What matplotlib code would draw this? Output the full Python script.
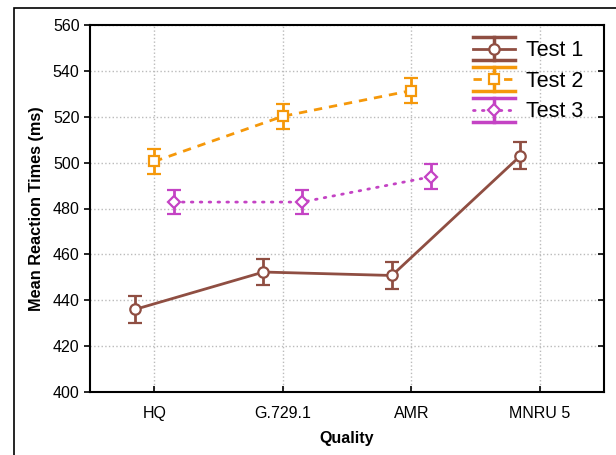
import numpy as np
import matplotlib
matplotlib.use("Agg")
import matplotlib.pyplot as plt
from matplotlib.lines import Line2D
from matplotlib.legend_handler import HandlerBase
from matplotlib.patches import Rectangle

plt.rcParams['font.family'] = ['Liberation Sans', 'DejaVu Sans']

qualities = ['HQ', 'G.729.1', 'AMR', 'MNRU 5']

test1_mean = [436.0, 452.3, 450.8, 503.0]
test1_err = [5.9, 5.6, 5.8, 5.8]
test2_mean = [500.5, 520.2, 531.4]
test2_err = [5.4, 5.4, 5.4]
test3_mean = [482.8, 482.8, 493.8]
test3_err = [5.4, 5.4, 5.4]

brown = '#8F4E42'
orange = '#F5980A'
magenta = '#C443C4'

series = [
    ('Test 1', test1_mean, test1_err, brown, '-', 'o', 7.5, -0.15),
    ('Test 2', test2_mean, test2_err, orange, (0, (3, 2.5)), 's', 7, 0.0),
    ('Test 3', test3_mean, test3_err, magenta, (0, (0.6, 2.6)), 'D', 6, 0.15),
]


class ErrHandler(HandlerBase):
    # legend key: wide caps above/below, stem, line and marker
    def __init__(self, color, ls, marker, ms):
        super().__init__()
        self.color, self.ls, self.marker, self.ms = color, ls, marker, ms

    def create_artists(self, legend, orig, xd, yd, w, h, fs, trans):
        cy = yd + h / 2
        top = cy + 8.5
        bot = cy - 8.5
        rnd = 'round' if self.marker == 'D' else 'butt'
        arts = [
            Line2D([xd, xd + w], [top, top], color=self.color, lw=2.5),
            Line2D([xd, xd + w], [bot, bot], color=self.color, lw=2.5),
            Line2D([xd + w / 2, xd + w / 2], [bot, top], color=self.color, lw=2.5),
            Line2D([xd, xd + w], [cy, cy], color=self.color, lw=2,
                   linestyle=self.ls, dash_capstyle=rnd),
            Line2D([xd + w / 2], [cy], color=self.color, marker=self.marker,
                   markersize=self.ms, markerfacecolor='white',
                   markeredgecolor=self.color, markeredgewidth=1.6, linestyle='None'),
        ]
        for a in arts:
            a.set_transform(trans)
        return arts


fig = plt.figure(figsize=(6.16, 4.55), dpi=100)
fig.patches.append(Rectangle((14 / 616, -0.1), 1.0, 1 - 8 / 455 + 0.1,
                             transform=fig.transFigure, fill=False,
                             edgecolor='black', lw=1.2))
ax = fig.add_axes([90 / 616, 63 / 455, 514 / 616, 367 / 455])

x = np.arange(len(qualities))
handles = []
handler_map = {}
for name, mean, err, col, ls, mk, ms, off in series:
    xs = x[:len(mean)] + off
    ax.errorbar(xs, mean, yerr=err, color=col, linestyle=ls, linewidth=2,
                marker=mk, markersize=ms, markerfacecolor='white',
                markeredgecolor=col, markeredgewidth=1.6,
                elinewidth=2, capsize=5, capthick=2, zorder=3,
                dash_capstyle='round' if mk == 'D' else 'butt')
    h = Line2D([], [], color=col, label=name)
    handles.append(h)
    handler_map[h] = ErrHandler(col, ls, mk, ms)

ax.set_xlim(-0.5, 3.5)
ax.set_ylim(400, 560)
ax.set_xticks(x)
ax.set_xticklabels(qualities)
ax.set_yticks(np.arange(400, 561, 20))
ax.grid(True, color='#BBBBBB', linestyle=':', linewidth=1)
ax.set_axisbelow(True)

for s in ax.spines.values():
    s.set_linewidth(1.5)
ax.tick_params(axis='y', direction='out', length=4, width=1.2, labelsize=11.5)
ax.tick_params(axis='x', direction='in', length=4, width=1.2, labelsize=11.5,
               pad=10)

# inward ticks on the right spine
ax2 = ax.twinx()
ax2.set_ylim(ax.get_ylim())
ax2.set_yticks(ax.get_yticks())
ax2.tick_params(axis='y', direction='in', length=4, width=1.2, labelright=False)
for s in ax2.spines.values():
    s.set_visible(False)

ax.set_xlabel('Quality', fontsize=11.5, fontweight='bold', labelpad=7)
ax.set_ylabel('Mean Reaction Times (ms)', fontsize=11.7, fontweight='bold', labelpad=6)

ax2.legend(handles=handles, handler_map=handler_map, loc='upper right',
           bbox_to_anchor=(0.99, 1.0), frameon=False, fontsize=15.5,
           handlelength=1.95, handletextpad=0.55, labelspacing=0.45,
           borderaxespad=0.3)

fig.savefig('out.png', dpi=100)
